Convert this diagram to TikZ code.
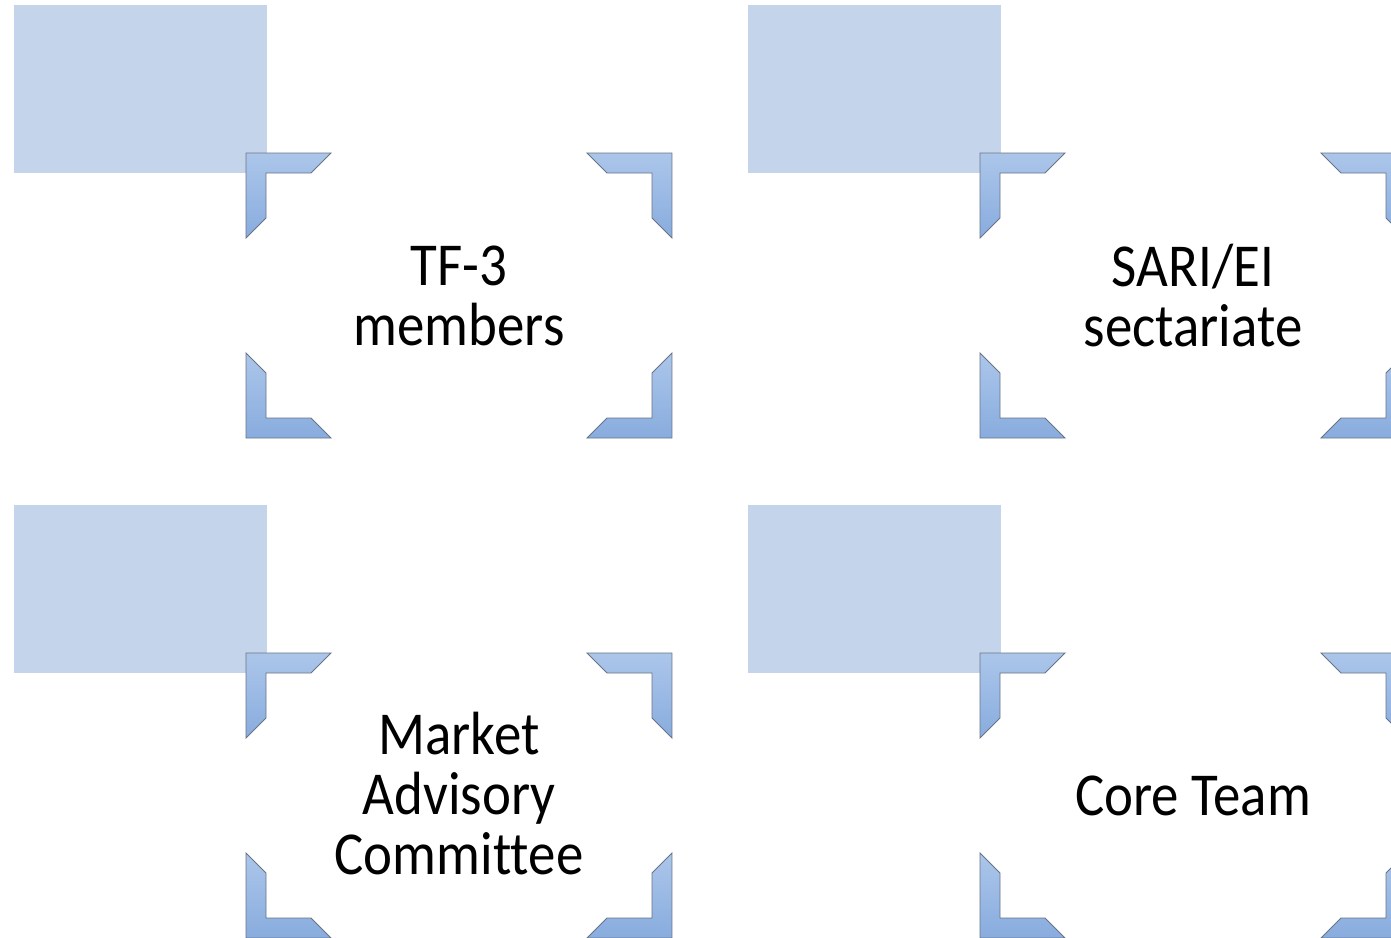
\documentclass[tikz,border=0pt]{standalone}
\usepackage{fontspec}
\setmainfont{Carlito}[Ligatures={NoCommon}]

\definecolor{paleblue}{RGB}{196,213,235}
\definecolor{lightblue}{RGB}{172,198,234}
\definecolor{midblue}{RGB}{136,172,222}
\definecolor{edgegray}{RGB}{104,116,134}

\tikzset{label text/.style={font=\fontsize{61}{60}\selectfont, align=center, inner sep=0pt, xscale=0.9, transform shape}}

\begin{document}
\begin{tikzpicture}[x=1pt,y=-1pt]
\useasboundingbox (0,0) rectangle (1391,937);

\pgfmathsetmacro{\armL}{85}
\pgfmathsetmacro{\armW}{20}
\pgfmathsetmacro{\armI}{\armL-2*\armW}
\foreach \dx in {0,734}
\foreach \dy in {0,500} {
\fill[paleblue] (14+\dx,5+\dy) rectangle (267+\dx,173+\dy);
\foreach \cx/\cy/\sx/\sy in {246/153/1/1, 672/153/-1/1, 246/438/1/-1, 672/438/-1/-1}
\shadedraw[top color=lightblue, bottom color=midblue, draw=edgegray, line width=0.8pt] (\cx+\dx,\cy+\dy) -- ++({\sx*\armL},0) -- ++({-\sx*\armW},{\sy*\armW}) -- ++({-\sx*\armI},0) -- ++(0,{\sy*\armI}) -- ++({-\sx*\armW},{\sy*\armW}) -- cycle;
}

\node[label text] (tf) at (459,295.5) {TF-3\\members};
\node[label text] (sari) at (1193,295.5) {SARI/EI\\sectariate};
\node[label text] (market) at (459,793.5) {Market\\Advisory\\Committee};
\node[label text] (core) at (1193,795.5) {Core Team};
\end{tikzpicture}
\end{document}
